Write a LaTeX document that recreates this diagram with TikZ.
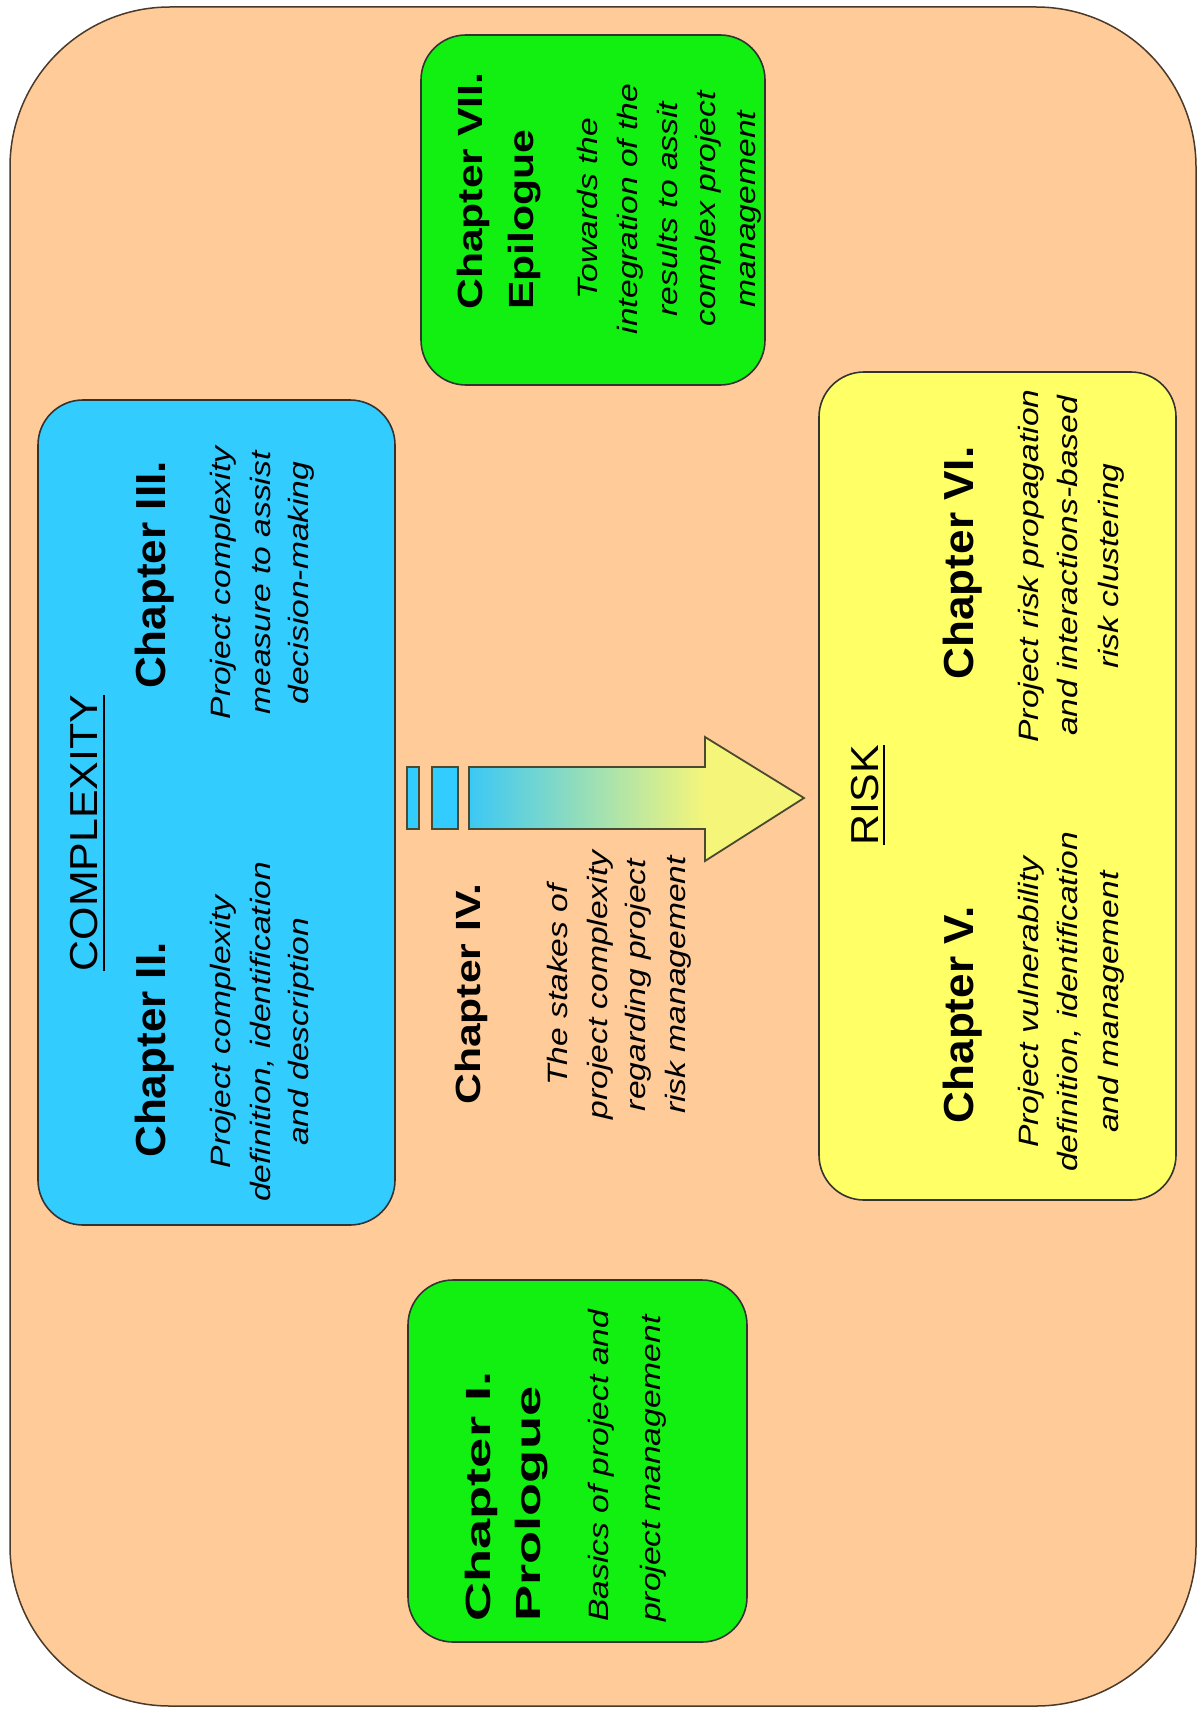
\documentclass[tikz,border=0pt]{standalone}
\usepackage{fontspec}
\setmainfont{Liberation Sans}
\usetikzlibrary{calc}
\definecolor{peach}{HTML}{FFCC99}
\definecolor{bluefill}{HTML}{33CCFF}
\definecolor{yellowfill}{HTML}{FFFF66}
\definecolor{greenfill}{HTML}{11F011}
\definecolor{edge}{HTML}{333333}
\definecolor{outeredge}{HTML}{4A3A2A}
\definecolor{arrowblue}{HTML}{3CC8F5}
\definecolor{arrowyellow}{HTML}{F5F57A}
\definecolor{arrowedge}{HTML}{4A4A30}
\begin{document}
\begin{tikzpicture}[x=1pt,y=-1pt,
  box/.style={draw=edge, line width=1.6pt, rounded corners=45pt, inner sep=0pt},
  hdA/.style={rotate=90, xscale=1.05, inner sep=0pt, anchor=base, font=\fontsize{42}{50}\selectfont\bfseries},
  hdB/.style={rotate=90, xscale=1.22, inner sep=0pt, anchor=base, font=\fontsize{35}{42}\selectfont\bfseries},
  hdC/.style={rotate=90, xscale=1.55, inner sep=0pt, anchor=base, font=\fontsize{35}{42}\selectfont\bfseries},
  lbl/.style={rotate=90, xscale=1.1, inner sep=0pt, anchor=base, font=\fontsize{39}{46}\selectfont},
  dsc/.style={rotate=90, xscale=1.2, inner sep=0pt, anchor=base, font=\fontsize{28}{34}\selectfont\itshape},
  uline/.style={line width=2.2pt},
  arrowline/.style={draw=arrowedge, line width=1.8pt, line join=miter}
]
\useasboundingbox (0,0) rectangle (1202,1712);
\fill[white] (0,0) rectangle (1202,1712);

% outer frame
\node[box, draw=outeredge, line width=1.5pt, fill=peach, rounded corners=160pt,
      minimum width=1186pt, minimum height=1699pt] (outer) at (603,856.5) {};

% boxes
\node[box, fill=bluefill, minimum width=357pt, minimum height=825pt] (blue) at (216.5,812.5) {};
\node[box, fill=yellowfill, minimum width=357pt, minimum height=828pt] (yellow) at (997.5,786) {};
\node[box, fill=greenfill, minimum width=344pt, minimum height=350pt] (green7) at (593,210) {};
\node[box, fill=greenfill, minimum width=339pt, minimum height=362pt] (green1) at (577.5,1461) {};

% arrow
\fill[bluefill] (407,767) rectangle (419,829);
\fill[bluefill] (432,767) rectangle (458,829);
\draw[arrowline] (407,767) rectangle (419,829);
\draw[arrowline] (432,767) rectangle (458,829);
\shade[left color=arrowblue, right color=arrowyellow] (469,767) rectangle (705,829);
\fill[arrowyellow] (705,737) -- (804,798) -- (705,861) -- cycle;
\draw[arrowline] (469,767) -- (705,767) -- (705,737) -- (804,798) -- (705,861) -- (705,829) -- (469,829) -- cycle;

% COMPLEXITY box
\node[lbl] (cmp) at (97,833) {COMPLEXITY};
\draw[uline] ($(cmp.base west)+(7,0)$) -- ($(cmp.base east)+(7,0)$);
\node[hdA] (c2) at (165,1050) {Chapter II.};
\node[hdA] (c3) at (165,575) {Chapter III.};
\node[dsc] (d2a) at (230,1032) {Project complexity};
\node[dsc] (d2b) at (270,1032) {definition, identification};
\node[dsc] (d2c) at (308,1032) {and description};
\node[dsc] (d3a) at (230,583) {Project complexity};
\node[dsc] (d3b) at (270,583) {measure to assist};
\node[dsc] (d3c) at (308,583) {decision-making};

% Chapter IV
\node[hdB] (c4) at (480,994) {Chapter IV.};
\node[dsc] (d4a) at (567,985) {The stakes of};
\node[dsc] (d4b) at (607,985) {project complexity};
\node[dsc] (d4c) at (645,985) {regarding project};
\node[dsc] (d4d) at (685,985) {risk management};

% RISK box
\node[lbl] (risk) at (878,795) {RISK};
\draw[uline] ($(risk.base west)+(6,0)$) -- ($(risk.base east)+(6,0)$);
\node[hdA] (c5) at (973,1015) {Chapter V.};
\node[hdA] (c6) at (973,563) {Chapter VI.};
\node[dsc] (d5a) at (1038,1002) {Project vulnerability};
\node[dsc] (d5b) at (1077,1002) {definition, identification};
\node[dsc] (d5c) at (1118,1002) {and management};
\node[dsc] (d6a) at (1038,566) {Project risk propagation};
\node[dsc] (d6b) at (1077,566) {and interactions-based};
\node[dsc] (d6c) at (1118,566) {risk clustering};

% Chapter VII
\node[hdB, anchor=base west] (c7) at (482,310) {Chapter VII.};
\node[hdB, anchor=base west] (c7b) at (533,310) {Epilogue};
\node[dsc] (d7a) at (597,209) {Towards the};
\node[dsc] (d7b) at (637,209) {integration of the};
\node[dsc] (d7c) at (677,209) {results to assit};
\node[dsc] (d7d) at (715,209) {complex project};
\node[dsc] (d7e) at (755,209) {management};

% Chapter I
\node[hdC, anchor=base west] (c1) at (490,1622) {Chapter I.};
\node[hdC, anchor=base west] (c1b) at (540,1622) {Prologue};
\node[dsc, anchor=base west] (d1a) at (608,1622) {Basics of project and};
\node[dsc, anchor=base west] (d1b) at (660,1622) {project management};
\end{tikzpicture}
\end{document}
